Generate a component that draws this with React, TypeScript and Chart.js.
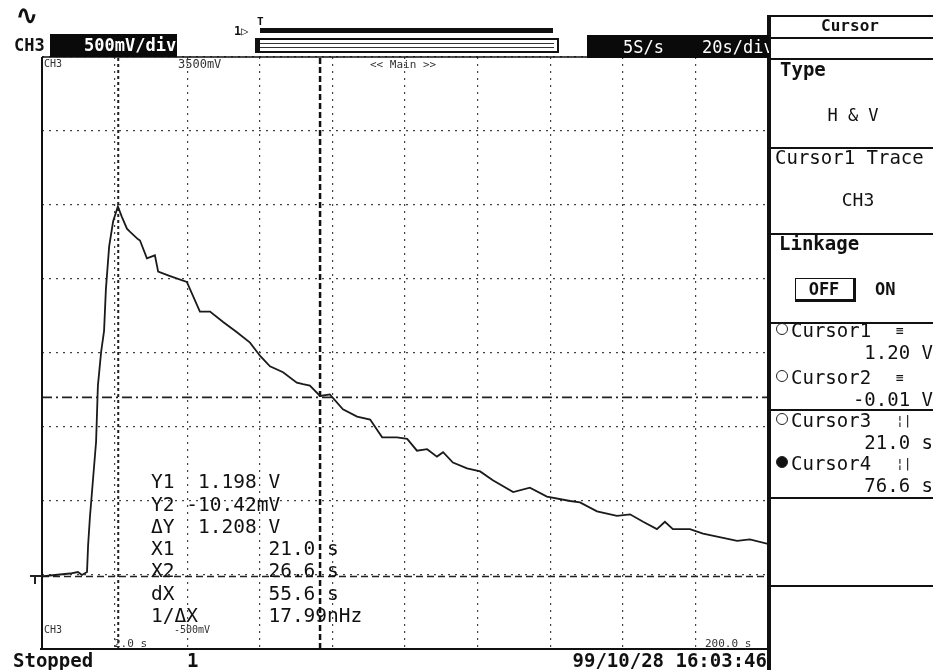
import React, { useEffect, useRef } from "react";
import { Chart, registerables } from "chart.js";
Chart.register(...registerables);

// ---- waveform data (CH3), time in seconds, voltage in volts ----
const timeS = [
  0, 3.6, 7.7, 9.9, 11.0, 12.4, 12.7, 13.2, 14.0, 14.9, 15.4, 16.3, 17.1, 17.6, 18.5, 19.6, 20.9,
  22.0, 23.4, 24.2, 26.4, 27.0, 28.9, 31.1, 32.0, 35.3, 39.9, 43.5, 46.3, 49.9, 53.7, 57.3, 60.1,
  62.8, 66.4, 70.2, 71.9, 73.8, 76.6, 79.3, 82.9, 86.8, 90.4, 93.7, 97.8, 100.6, 103.3, 106.1,
  108.8, 110.5, 113.2, 117.1, 120.7, 124.2, 129.8, 134.4, 139.1, 145.5, 148.2, 152.9, 158.4, 162.0,
  165.6, 169.4, 171.6, 173.8, 178.5, 182.1, 186.0, 191.5, 195.0, 200,
];
const voltV = [
  -0.01, 0.0, 0.01, 0.02, 0.0, 0.02, 0.2, 0.39, 0.63, 0.9, 1.28, 1.51, 1.65, 1.93, 2.22, 2.39, 2.49,
  2.42, 2.34, 2.32, 2.27, 2.26, 2.14, 2.16, 2.05, 2.02, 1.98, 1.78, 1.78, 1.71, 1.64, 1.57, 1.48,
  1.41, 1.37, 1.3, 1.29, 1.28, 1.21, 1.22, 1.12, 1.07, 1.05, 0.93, 0.93, 0.92, 0.84, 0.85,
  0.8, 0.83, 0.76, 0.72, 0.7, 0.64, 0.56, 0.59, 0.53, 0.5, 0.49, 0.43, 0.4, 0.41,
  0.36, 0.31, 0.36, 0.31, 0.31, 0.28, 0.26, 0.23, 0.24, 0.21,
];

// ---- cursors ----
const cursorTimesS = [21.0, 76.6];
const cursorLevelsV = [1.2, -0.01];

// ---- axes (20 s/div, 500 mV/div) ----
const timeRangeS = [0, 200];
const timeStepS = 20;
const voltRangeV = [-0.5, 3.5];
const voltStepV = 0.5;

// ---- text readouts ----
const readoutRows = [
  "Y1  1.198 V",
  "Y2 -10.42mV",
  "ΔY  1.208 V",
  "X1        21.0 s",
  "X2        26.6 s",
  "dX        55.6 s",
  "1/ΔX      17.99nHz",
];
const panelCursorNames = ["Cursor1", "Cursor2", "Cursor3", "Cursor4"];
const panelCursorValues = ["1.20 V", "-0.01 V", "21.0 s", "76.6 s"];

const MONO = "'DejaVu Sans Mono', 'Liberation Mono', monospace";

function T(props: {
  x: number;
  y: number;
  size?: number;
  bold?: boolean;
  color?: string;
  right?: boolean;
  center?: boolean;
  children: React.ReactNode;
}) {
  const size = props.size ?? 19;
  const style: React.CSSProperties = {
    position: "absolute",
    top: props.y - size / 2 - 1,
    fontFamily: MONO,
    fontSize: size,
    lineHeight: `${size + 2}px`,
    fontWeight: props.bold ? "bold" : "normal",
    color: props.color ?? "#111",
    whiteSpace: "pre",
  };
  if (props.right) style.right = 933 - props.x;
  else if (props.center) {
    style.left = props.x;
    style.transform = "translateX(-50%)";
  } else style.left = props.x;
  return <div style={style}>{props.children}</div>;
}

function Box(props: { x: number; y: number; w: number; h: number; style?: React.CSSProperties }) {
  return (
    <div
      style={{
        position: "absolute",
        left: props.x,
        top: props.y,
        width: props.w,
        height: props.h,
        ...props.style,
      }}
    />
  );
}

export default function App() {
  const ref = useRef<HTMLCanvasElement | null>(null);

  useEffect(() => {
    if (!ref.current) return;
    const wave = timeS.map((t, i) => ({ x: t, y: voltV[i] }));
    const vCursors = cursorTimesS.map((t) => [
      { x: t, y: voltRangeV[0] },
      { x: t, y: voltRangeV[1] },
    ]);
    const hCursors = cursorLevelsV.map((v) => [
      { x: timeRangeS[0], y: v },
      { x: timeRangeS[1], y: v },
    ]);

    const framePlugin = {
      id: "frame",
      afterDraw(chart: any) {
        const { ctx, chartArea: a } = chart;
        ctx.save();
        ctx.strokeStyle = "#111";
        ctx.lineWidth = 2;
        ctx.beginPath();
        ctx.moveTo(a.left, a.top);
        ctx.lineTo(a.left, a.bottom);
        ctx.moveTo(a.left - 2, a.bottom);
        ctx.lineTo(a.right + 1, a.bottom);
        ctx.moveTo(a.right, a.top - 42);
        ctx.lineTo(a.right, 670);
        ctx.stroke();
        ctx.lineWidth = 1.5;
        ctx.beginPath();
        ctx.moveTo(a.left, a.top);
        ctx.lineTo(a.right, a.top);
        ctx.stroke();
        ctx.restore();
      },
    };

    const chart = new Chart(ref.current, {
      type: "scatter",
      data: {
        datasets: [
          {
            label: "CH3",
            data: wave,
            showLine: true,
            borderColor: "#1a1a1a",
            borderWidth: 1.8,
            pointRadius: 0,
            tension: 0,
          },
          {
            label: "Cursor3",
            data: vCursors[0],
            showLine: true,
            borderColor: "#222",
            borderWidth: 2,
            borderDash: [3, 3],
            pointRadius: 0,
          },
          {
            label: "Cursor4",
            data: vCursors[1],
            showLine: true,
            borderColor: "#111",
            borderWidth: 2.5,
            borderDash: [6, 3],
            pointRadius: 0,
          },
          {
            label: "Cursor1",
            data: hCursors[0],
            showLine: true,
            borderColor: "#222",
            borderWidth: 1.8,
            borderDash: [10, 4, 2, 4],
            pointRadius: 0,
          },
          {
            label: "Cursor2",
            data: hCursors[1],
            showLine: true,
            borderColor: "#222",
            borderWidth: 1.6,
            borderDash: [7, 4],
            pointRadius: 0,
          },
        ],
      },
      options: {
        animation: false,
        responsive: false,
        devicePixelRatio: 1,
        layout: { padding: { left: 42, top: 57, right: 165, bottom: 21 } },
        plugins: { legend: { display: false }, tooltip: { enabled: false } },
        scales: {
          x: {
            type: "linear",
            min: timeRangeS[0],
            max: timeRangeS[1],
            ticks: { display: false, stepSize: timeStepS },
            grid: { color: "#444", lineWidth: 1.2, drawTicks: false },
            border: { display: false, dash: [2, 5] },
          },
          y: {
            type: "linear",
            min: voltRangeV[0],
            max: voltRangeV[1],
            ticks: { display: false, stepSize: voltStepV },
            grid: { color: "#444", lineWidth: 1.2, drawTicks: false },
            border: { display: false, dash: [2, 5] },
          },
        },
      },
      plugins: [framePlugin],
    });
    return () => chart.destroy();
  }, []);

  return (
    <div
      style={{
        position: "fixed",
        left: 0,
        top: 0,
        width: 933,
        height: 670,
        background: "#fff",
        overflow: "hidden",
      }}
    >
      <canvas ref={ref} width={933} height={670} style={{ position: "absolute", left: 0, top: 0, width: 933, height: 670 }} />

      {/* header */}
      <T x={16} y={15} size={26} bold>∿</T>
      <T x={14} y={45} size={17} bold>CH3</T>
      <Box x={50} y={34} w={127} h={23} style={{ background: "#0a0a0a" }} />
      <T x={84} y={45} size={17} bold color="#fff">500mV/div</T>
      <T x={234} y={31} size={12} bold>1▷</T>
      <T x={257} y={21} size={11} bold>T</T>
      <Box x={260} y={28} w={293} h={5} style={{ background: "#111" }} />
      <Box x={255} y={38} w={300} h={11} style={{ border: "2px solid #111" }} />
      <Box x={258} y={43} w={296} h={3} style={{ borderTop: "1px solid #333", borderBottom: "1px solid #333" }} />
      <Box x={255} y={38} w={5} h={15} style={{ background: "#111" }} />
      <Box x={587} y={35} w={183} h={23} style={{ background: "#0a0a0a" }} />
      <T x={623} y={47} size={17} color="#fff">5S/s</T>
      <T x={702} y={47} size={17} color="#fff">20s/div</T>

      {/* in-plot labels */}
      <T x={44} y={64} size={10} color="#333">CH3</T>
      <T x={178} y={64} size={12} color="#333">3500mV</T>
      <T x={370} y={64} size={11} color="#333">{"<< Main >>"}</T>
      <T x={44} y={630} size={10} color="#333">CH3</T>
      <T x={174} y={630} size={10} color="#333">-500mV</T>
      <T x={114} y={643} size={11} color="#333">2.0 s</T>
      <T x={705} y={643} size={11} color="#333">200.0 s</T>
      <Box x={30} y={575} w={12} h={2} style={{ background: "#222" }} />
      <Box x={34} y={575} w={2} h={9} style={{ background: "#222" }} />

      {/* measurement readout */}
      {readoutRows.map((r, i) => (
        <T key={r} x={151} y={482 + i * 22.3} size={19.5}>
          {r}
        </T>
      ))}

      {/* footer */}
      <T x={13} y={660} size={19} bold>Stopped</T>
      <T x={187} y={660} size={19} bold>1</T>
      <T x={767} y={660} size={19} bold right>99/10/28 16:03:46</T>

      {/* right panel */}
      <Box x={769} y={15} w={2} h={655} style={{ background: "#111" }} />
      {[15, 37, 58, 147, 233, 322, 409, 497, 585].map((y) => (
        <Box key={y} x={769} y={y} w={164} h={2} style={{ background: "#111" }} />
      ))}
      <T x={850} y={26} size={16} center bold>Cursor</T>
      <T x={780} y={69} size={19} bold>Type</T>
      <T x={853} y={115} size={17} center>H &amp; V</T>
      <T x={775} y={157} size={19}>Cursor1 Trace</T>
      <T x={858} y={200} size={18} center>CH3</T>
      <T x={779} y={243} size={19} bold>Linkage</T>
      <Box x={795} y={278} w={57} h={20} style={{ border: "1.5px solid #111", borderRightWidth: 3, borderBottomWidth: 3 }} />
      <T x={824} y={289} size={17} center bold>OFF</T>
      <T x={875} y={289} size={17} bold>ON</T>
      {panelCursorNames.map((n, i) => {
        const baseY = [330, 377, 420, 463][i];
        return (
          <React.Fragment key={n}>
            <div
              style={{
                position: "absolute",
                left: 776,
                top: baseY - 7,
                width: 12,
                height: 12,
                borderRadius: "50%",
                border: "1.5px solid #222",
                background: i === 3 ? "#111" : "transparent",
                boxSizing: "border-box",
              }}
            />
            <T x={791} y={baseY} size={19}>{n}</T>
            <T x={896} y={baseY} size={13}>{i < 2 ? "≡" : "¦|"}</T>
            <T x={933} y={baseY + 22} size={19} right>{panelCursorValues[i]}</T>
          </React.Fragment>
        );
      })}
    </div>
  );
}
